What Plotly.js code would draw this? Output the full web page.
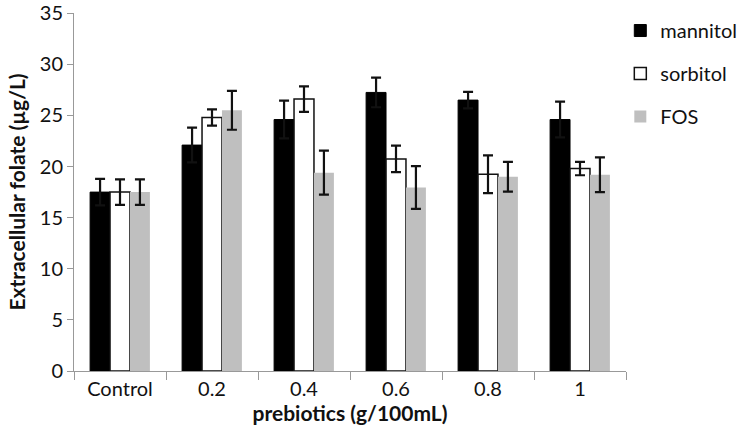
<!DOCTYPE html>
<html>
<head>
<meta charset="utf-8">
<script src="https://cdn.plot.ly/plotly-3.0.1.min.js"></script>
<style>
  body { margin: 0; background: #fff; }
  #chart { width: 742px; height: 441px; }
</style>
</head>
<body>
<div id="chart"></div>
<script>
// doses on the x axis
var doses = ["Control", "0.2", "0.4", "0.6", "0.8", "1"];

// extracellular folate (ug/L)
var mannitol = [17.5, 22.1, 24.6, 27.25, 26.5, 24.6];
var mannitolErr = [1.3, 1.7, 1.85, 1.45, 0.8, 1.75];

var sorbitol = [17.5, 24.8, 26.6, 20.75, 19.25, 19.8];
var sorbitolErr = [1.25, 0.8, 1.25, 1.3, 1.85, 0.65];

var fos = [17.5, 25.5, 19.4, 17.95, 19.0, 19.2];
var fosErr = [1.25, 1.9, 2.15, 2.1, 1.45, 1.7];

var yTicks = [0, 5, 10, 15, 20, 25, 30, 35];

var font = "Lato, 'Open Sans', sans-serif";

function errBars(arr) {
  return {type: "data", array: arr, visible: true, color: "#111", thickness: 2.2, width: 5};
}

var traceM = {
  x: doses, y: mannitol, name: "mannitol", type: "bar", legendgroup: "a",
  marker: {color: "#000", line: {color: "#000", width: 1}},
  error_y: errBars(mannitolErr)
};
var traceS = {
  x: doses, y: sorbitol, name: "sorbitol", type: "bar", legendgroup: "b",
  marker: {color: "#fff", line: {color: "#111", width: 1.5}},
  error_y: errBars(sorbitolErr)
};
var traceF = {
  x: doses, y: fos, name: "FOS", type: "bar", legendgroup: "c",
  marker: {color: "#bfbfbf", line: {color: "#bfbfbf", width: 0}},
  error_y: errBars(fosErr)
};

var data = [traceM, traceS, traceF];

var layout = {
  width: 742, height: 441,
  margin: {l: 74, r: 116, t: 13, b: 70, autoexpand: false},
  paper_bgcolor: "#fff", plot_bgcolor: "#fff",
  font: {family: font, size: 20, color: "#111"},
  barmode: "group",
  bargap: 0.35,
  bargroupgap: 0,
  showlegend: true,
  legend: {
    xref: "container", yref: "container",
    x: 0.836, y: 0.975, xanchor: "left", yanchor: "top",
    font: {family: font, size: 20, color: "#111"},
    tracegroupgap: 14, itemwidth: 30
  },
  xaxis: {
    type: "category",
    tickson: "boundaries",
    ticks: "outside", ticklen: 8, tickcolor: "#999",
    showline: true, linecolor: "#999", linewidth: 1,
    showgrid: false, zeroline: false,
    tickfont: {family: font, size: 20, color: "#111"},
    title: {text: "<b>prebiotics (g/100mL)</b>", font: {family: font, size: 21, color: "#111"}, standoff: 4}
  },
  yaxis: {
    range: [0, 35.02],
    tickmode: "array", tickvals: yTicks,
    ticklabeloverflow: "allow",
    ticks: "outside", ticklen: 6, tickcolor: "#999",
    showline: true, linecolor: "#999", linewidth: 1,
    showgrid: false, zeroline: false,
    tickfont: {family: font, size: 20, color: "#111"},
    title: {text: "<b>Extracellular folate (µg/L)</b>", font: {family: font, size: 21, color: "#111"}, standoff: 8}
  }
};

Plotly.newPlot("chart", data, layout, {staticPlot: true});
</script>
</body>
</html>
